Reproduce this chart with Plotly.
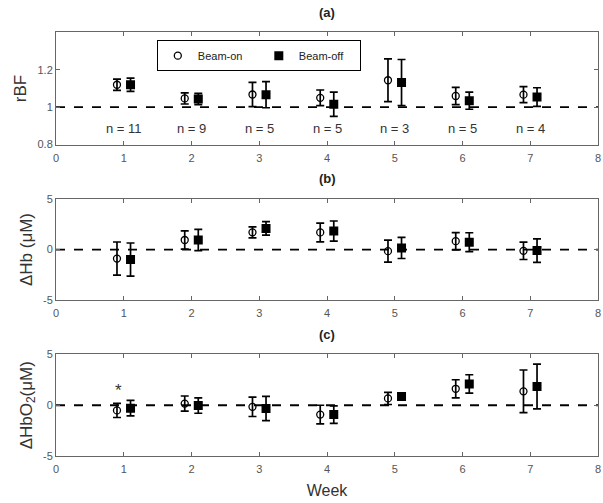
import plotly.graph_objects as go

weeks = [1, 2, 3, 4, 5, 6, 7]
n_labels = ["n = 11", "n = 9", "n = 5", "n = 5", "n = 3", "n = 5", "n = 4"]

rbf_on = [1.12, 1.047, 1.068, 1.05, 1.144, 1.06, 1.067]
rbf_on_err = [0.03, 0.03, 0.065, 0.042, 0.114, 0.046, 0.043]
rbf_off = [1.12, 1.044, 1.067, 1.016, 1.132, 1.035, 1.054]
rbf_off_err = [0.035, 0.03, 0.07, 0.065, 0.123, 0.046, 0.05]

hb_on = [-0.9, 0.95, 1.71, 1.7, -0.16, 0.83, -0.13]
hb_on_err = [1.65, 0.9, 0.55, 0.93, 1.1, 0.86, 0.86]
hb_off = [-1.0, 0.95, 2.1, 1.84, 0.16, 0.73, -0.1]
hb_off_err = [1.65, 1.05, 0.67, 1.0, 1.05, 0.94, 1.17]

hbo2_on = [-0.51, 0.16, -0.16, -0.92, 0.67, 1.62, 1.37]
hbo2_on_err = [0.7, 0.75, 0.95, 0.92, 0.6, 0.89, 2.1]
hbo2_off = [-0.29, -0.03, -0.32, -0.92, 0.86, 2.1, 1.84]
hbo2_off_err = [0.76, 0.76, 1.2, 0.86, 0.3, 0.9, 2.2]

offset = 0.1
x_on = [w - offset for w in weeks]
x_off = [w + offset for w in weeks]

panels = [
    (rbf_on, rbf_on_err, rbf_off, rbf_off_err, "x", "y"),
    (hb_on, hb_on_err, hb_off, hb_off_err, "x2", "y2"),
    (hbo2_on, hbo2_on_err, hbo2_off, hbo2_off_err, "x3", "y3"),
]

fig = go.Figure()
for i, (on, on_e, off, off_e, xa, ya) in enumerate(panels):
    fig.add_trace(go.Scatter(
        x=x_on, y=on, mode="markers", name="Beam-on", xaxis=xa, yaxis=ya,
        showlegend=(i == 0),
        marker=dict(symbol="circle-open", size=7, color="black", line=dict(width=1.3, color="black")),
        error_y=dict(type="data", array=on_e, visible=True, color="black", thickness=1.7, width=4),
    ))
    fig.add_trace(go.Scatter(
        x=x_off, y=off, mode="markers", name="Beam-off", xaxis=xa, yaxis=ya,
        showlegend=(i == 0),
        marker=dict(symbol="square", size=9, color="black"),
        error_y=dict(type="data", array=off_e, visible=True, color="black", thickness=1.7, width=4),
    ))

tickfont = dict(family="Liberation Sans, Arial, sans-serif", size=11, color="#555")
axis_common = dict(
    showline=True, linecolor="#666", linewidth=1, mirror="ticks",
    ticks="inside", ticklen=4, tickcolor="#666", showgrid=False, zeroline=False,
    tickfont=tickfont,
)

domains = [[0.7177, 0.9463], [0.4016, 0.6064], [0.0835, 0.2903]]
ylabels = ["rBF", "ΔHb (μM)", "ΔHbO<sub>2</sub>(μM)"]
titles = ["(a)", "(b)", "(c)"]

layout = dict(
    width=603, height=503,
    margin=dict(l=56, r=5, t=0, b=0),
    paper_bgcolor="white", plot_bgcolor="white",
    font=dict(family="Liberation Sans, Arial, sans-serif", color="#333"),
    legend=dict(
        orientation="h", x=0.186, y=1 - 35 / 503, xanchor="left", yanchor="top",
        bordercolor="black", borderwidth=1, bgcolor="white",
        font=dict(size=11, color="#222"), entrywidth=56, itemwidth=30,
        tracegroupgap=0,
    ),
)

for k in range(3):
    sfx = "" if k == 0 else str(k + 1)
    xa = dict(
        axis_common, domain=[0, 1], range=[0, 8], tickvals=list(range(0, 9)),
        anchor="y" + sfx, ticklabelstandoff=3,
    )
    if k == 2:
        xa["title"] = dict(text="Week", font=dict(size=16, color="#333"), standoff=10)
    layout["xaxis" + sfx] = xa
    if k == 0:
        yr = [0.8, 1.4]
        tv = [0.8, 1.0, 1.2]
        tt = ["0.8", "1", "1.2"]
    else:
        yr = [-5, 5]
        tv = [-5, 0, 5]
        tt = ["-5", "0", "5"]
    layout["yaxis" + sfx] = dict(
        axis_common, domain=domains[k], range=yr, tickvals=tv, ticktext=tt,
        anchor="x" + sfx,
        title=dict(text=ylabels[k], font=dict(size=17, color="#333"), standoff=6),
    )

fig.update_layout(**layout)

# dashed reference lines
for k, yv in enumerate([1.0, 0.0, 0.0]):
    sfx = "" if k == 0 else str(k + 1)
    fig.add_shape(type="line", xref="x" + sfx + " domain",
                  yref="y" + sfx, x0=0, x1=1, y0=yv, y1=yv,
                  line=dict(color="black", width=1.8, dash="dash"), layer="below")

# panel titles
for k in range(3):
    top = domains[k][1]
    fig.add_annotation(text="<b>" + titles[k] + "</b>", xref="paper", yref="paper",
                       x=0.5, y=top + 0.022, yanchor="bottom", showarrow=False,
                       font=dict(size=13, color="#222"))

# n labels
for w, t in zip(weeks, n_labels):
    fig.add_annotation(text=t, x=w, y=0.884, xref="x", yref="y", showarrow=False,
                       font=dict(size=13, color="#333"))

# asterisk
fig.add_annotation(text="*", x=0.92, y=1.9, xref="x3", yref="y3", showarrow=False,
                   yshift=-5, font=dict(size=17, color="#333"))

fig.write_html("out.html")
